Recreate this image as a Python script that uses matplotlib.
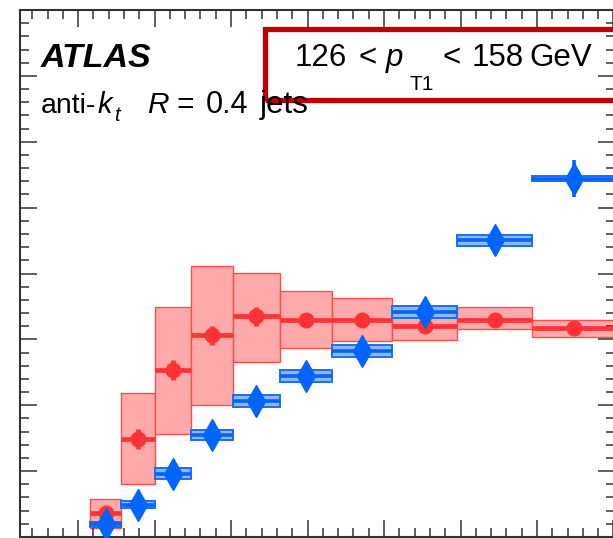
import numpy as np
import matplotlib
matplotlib.use("Agg")
import matplotlib.pyplot as plt
from matplotlib.patches import Rectangle
from matplotlib.ticker import MultipleLocator, NullFormatter

plt.rcParams['font.family'] = ['Liberation Sans', 'DejaVu Sans']
plt.rcParams['mathtext.fontset'] = 'custom'
plt.rcParams['mathtext.rm'] = 'Liberation Sans'
plt.rcParams['mathtext.it'] = 'Liberation Sans:italic'
plt.rcParams['mathtext.bf'] = 'Liberation Sans:bold'

# pT2 bin edges [GeV]
edges = np.array([158, 178, 200, 224, 251, 282, 316, 355, 398, 447, 501])

# data (red): central value, systematic band, statistical error
red_y = [0.365, 1.49, 2.53, 3.06, 3.35, 3.30, 3.30, 3.21, 3.30, 3.17]
red_lo = [0.14, 0.81, 1.57, 2.01, 2.66, 2.87, 2.97, 2.99, 3.15, 3.03]
red_hi = [0.58, 2.18, 3.49, 4.11, 4.01, 3.73, 3.63, 3.49, 3.49, 3.29]
red_stat = [0.05, 0.15, 0.15, 0.15, 0.14, 0.10, 0.08, 0.08, 0.08, 0.08]

# comparison (blue)
blue_y = [0.20, 0.49, 0.96, 1.55, 2.07, 2.45, 2.83, 3.41, 4.51, 5.44]
blue_lo = [0.15, 0.44, 0.88, 1.48, 1.98, 2.36, 2.74, 3.33, 4.42, 5.40]
blue_hi = [0.23, 0.54, 1.04, 1.63, 2.16, 2.54, 2.92, 3.51, 4.58, 5.48]
blue_stat = [0.03, 0.04, 0.05, 0.06, 0.07, 0.08, 0.09, 0.10, 0.13, 0.28]

centers = 0.5 * (edges[:-1] + edges[1:])
halfw = 0.5 * np.diff(edges)

W, H = 613, 538
fig = plt.figure(figsize=(W / 100, H / 100), dpi=100)
ax = fig.add_axes([20 / W, 1 / H, 595 / W, 527 / H])

# systematic boxes
ax.bar(edges[:-1], np.array(red_hi) - np.array(red_lo), bottom=red_lo,
       width=np.diff(edges), align='edge', color='#ffaaaa',
       edgecolor='#ff4d4d', linewidth=1.0, zorder=1)
ax.bar(edges[:-1], np.array(blue_hi) - np.array(blue_lo), bottom=blue_lo,
       width=np.diff(edges), align='edge', color='#8dbaff',
       edgecolor='#1a6cff', linewidth=1.4, zorder=2)

# points with bin-width bars and stat errors
ax.errorbar(centers, red_y, xerr=halfw, yerr=red_stat, fmt='o',
            color='#ff3333', ms=10.5, elinewidth=3.4, capsize=0, zorder=3)
ax.errorbar(centers, blue_y, xerr=halfw, yerr=blue_stat, fmt='d',
            color='#0064ff', ms=16, elinewidth=2.6, capsize=0, zorder=4)

ax.set_xlim(112, 501)
ax.set_ylim(0, 8)
ax.xaxis.set_major_locator(MultipleLocator(50))
ax.xaxis.set_minor_locator(MultipleLocator(10))
ax.yaxis.set_major_locator(MultipleLocator(1))
ax.yaxis.set_minor_locator(MultipleLocator(0.2))
ax.xaxis.set_major_formatter(NullFormatter())
ax.yaxis.set_major_formatter(NullFormatter())
ax.tick_params(which='both', direction='in', top=True, right=True,
               color='#333333', width=1.1)
ax.tick_params(which='major', length=12.5)
ax.tick_params(which='minor', length=6.2)
for s in ax.spines.values():
    s.set_linewidth(1.5)
    s.set_color('#333333')


def label(x, y, s, size, **kw):
    # x, y in pixels from the top-left corner, y is the baseline
    fig.text(x / W, 1 - y / H, s, fontsize=size, va='baseline', **kw)


label(41, 67, 'ATLAS', 24.5, fontweight='bold', fontstyle='italic')

# anti-kt R = 0.4 jets
label(41, 113, 'anti-', 20.5)
label(97, 113, '$k$', 21)
label(114, 121, '$t$', 14.5)
label(147, 113, '$R$', 21.5)
label(177, 113, '=', 21.5)
label(206, 113, '0.4', 22)
label(260, 113, 'jets', 22.5)

# leading-jet pT range
fig.patches.append(Rectangle((265 / W, 1 - 100 / H), 400 / W, 71 / H,
                             transform=fig.transFigure, fill=False,
                             edgecolor='#c00000', linewidth=3.8))
label(295, 66, '126', 22.5)
label(359, 66, '<', 22.5)
label(385, 66, '$p$', 22.5)
label(409, 90, 'T1', 15)
label(442, 66, '<', 22.5)
label(472, 66, '158', 22.5)
label(529, 66, 'GeV', 22.5)

fig.savefig('out.png', dpi=100)
